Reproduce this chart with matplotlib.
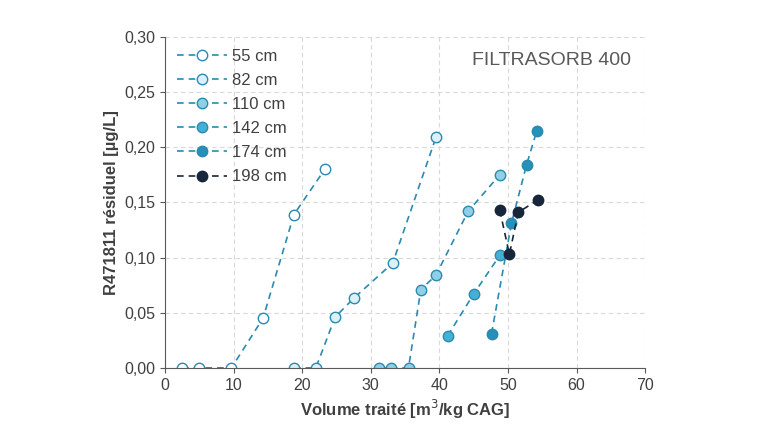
import matplotlib
matplotlib.use("Agg")
import matplotlib.pyplot as plt
from matplotlib.ticker import FuncFormatter

plt.rcParams["font.family"] = "Liberation Sans"

labels = ["55 cm", "82 cm", "110 cm", "142 cm", "174 cm", "198 cm"]
x55 = [2.5, 5, 9.7, 14.3, 18.8, 23.3]
y55 = [0, 0, 0, 0.045, 0.139, 0.180]
x82 = [18.8, 22, 24.8, 27.5, 33.2, 39.5]
y82 = [0, 0, 0.046, 0.063, 0.095, 0.209]
x110 = [31.2, 33, 35.5, 37.3, 39.5, 44.2, 48.8]
y110 = [0, 0, 0, 0.071, 0.084, 0.142, 0.175]
x142 = [41.2, 45, 48.8]
y142 = [0.029, 0.067, 0.102]
x174 = [47.6, 50.5, 52.7, 54.2]
y174 = [0.031, 0.131, 0.184, 0.215]
x198 = [48.8, 50.2, 51.5, 54.3]
y198 = [0.143, 0.103, 0.141, 0.152]

xs = [x55, x82, x110, x142, x174, x198]
ys = [y55, y82, y110, y142, y174, y198]
fills = ["white", "#ddf0f7", "#8fd0e6", "#45b0d5", "#2590b8", "#17263a"]
edges = ["#2a8ab0", "#2a8ab0", "#2a8ab0", "#2a8ab0", "#2a8ab0", "#17263a"]
lcol = ["#2a8ab0"] * 5 + ["#17263a"]

fig = plt.figure(figsize=(7.6, 4.4), dpi=100)
ax = fig.add_axes([0.217, 0.164, 0.632, 0.752])
for x, y, l, f, e, lc in zip(xs, ys, labels, fills, edges, lcol):
    ax.plot(x, y, ls=(0, (4, 3)), color=lc, lw=1.2, marker="o", ms=7.5,
            mfc=f, mec=e, mew=1.0, label=l)
ax.set_xlim(0, 70)
ax.set_ylim(0, 0.30)
ax.set_xticks(range(0, 71, 10))
ax.set_yticks([0, 0.05, 0.10, 0.15, 0.20, 0.25, 0.30])
ax.yaxis.set_major_formatter(FuncFormatter(lambda v, p: f"{v:.2f}".replace(".", ",")))
ax.grid(True, ls=(0, (4, 3)), color="#d9d9d9", lw=0.8)
for s in ["top", "right"]:
    ax.spines[s].set_visible(False)
for s in ["left", "bottom"]:
    ax.spines[s].set_color("#595959")
ax.tick_params(colors="#595959", labelsize=11.5, labelcolor="#404040")
ax.set_xlabel("Volume traité [m$^3$/kg CAG]", fontsize=12, fontweight="bold", color="#404040")
ax.set_ylabel("R471811 résiduel [µg/L]", fontsize=12, fontweight="bold", color="#404040")
ax.text(0.97, 0.93, "FILTRASORB 400", transform=ax.transAxes, ha="right", va="center",
        fontsize=14, color="#595959")
leg = ax.legend(loc="upper left", frameon=False, fontsize=12, handlelength=3,
                handletextpad=0.3, labelspacing=0.55, borderaxespad=0.3)
for t in leg.get_texts():
    t.set_color("#404040")
fig.savefig("out.png", dpi=100)
